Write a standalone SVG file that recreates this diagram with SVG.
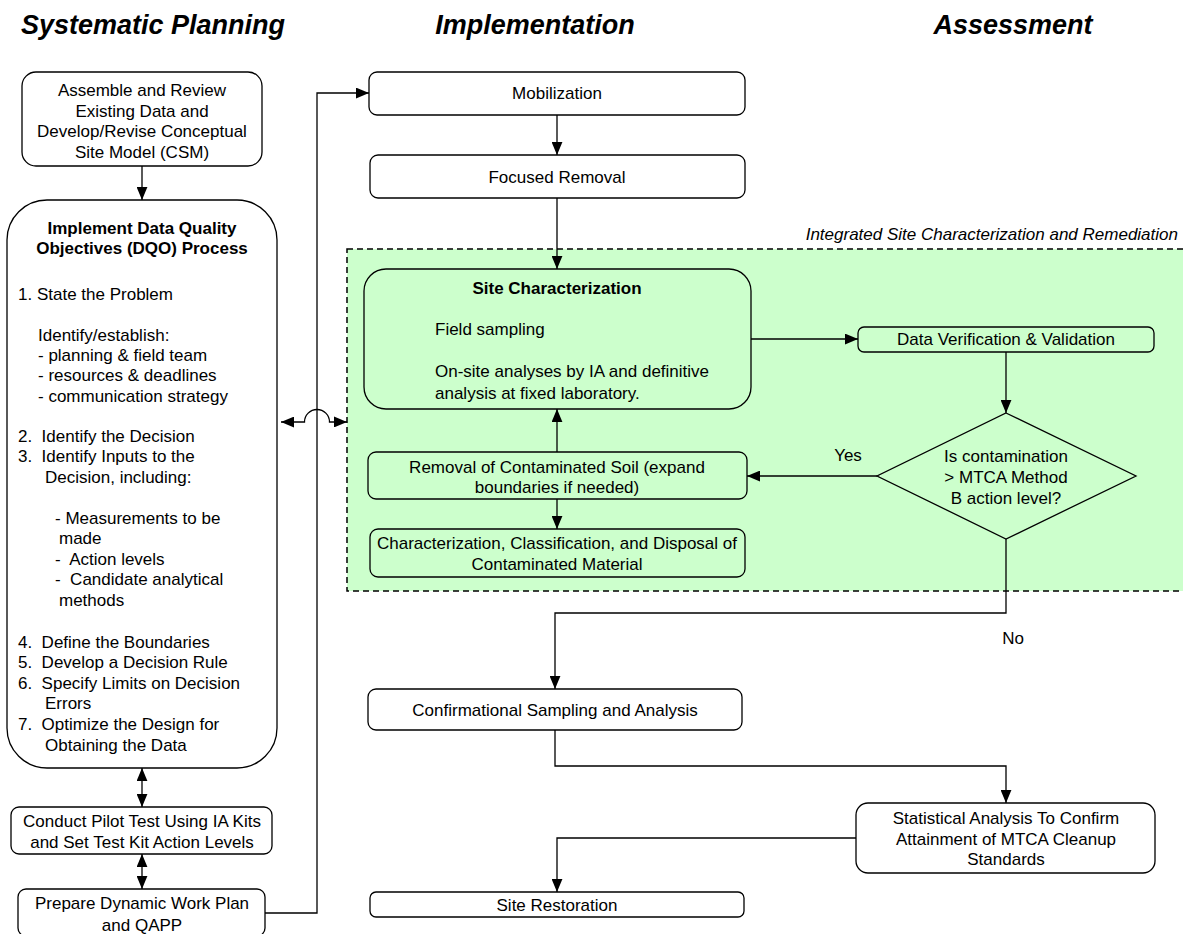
<svg xmlns="http://www.w3.org/2000/svg" width="1183" height="934" viewBox="0 0 1183 934">
<defs>
<style>
text{font-family:"Liberation Sans",Arial,sans-serif;font-size:17px;fill:#000}
.title{font-size:27px;font-weight:bold;font-style:italic}
.b{font-weight:bold}
.c{text-anchor:middle}
.pre{white-space:pre}
.box{fill:#fff;stroke:#000;stroke-width:1.3}
.gbox{fill:#ccffcc;stroke:#000;stroke-width:1.3}
.conn path{fill:none;stroke:#000;stroke-width:1.3}
</style>
<marker id="ah" viewBox="0 0 12 10" refX="12" refY="5" markerWidth="13" markerHeight="11" markerUnits="userSpaceOnUse" orient="auto-start-reverse">
<path d="M0,0 L12,5 L0,10 z" fill="#000"/>
</marker>
</defs>
<rect width="1183" height="934" fill="#fff"/>
<text class="title" x="21" y="34">Systematic Planning</text>
<text class="title c" x="535" y="34">Implementation</text>
<text class="title c" x="1013" y="34">Assessment</text>

<g id="region">
<rect x="347" y="249" width="850" height="342" fill="#ccffcc" stroke="#000" stroke-width="1.5" stroke-dasharray="6,4"/>
<text x="1178" y="240" style="text-anchor:end;font-style:italic">Integrated Site Characterization and Remediation</text>
</g>

<g id="assemble">
<rect class="box" x="22" y="72" width="240" height="94" rx="14"/>
<text class="c" x="142" y="96">Assemble and Review</text>
<text class="c" x="142" y="117">Existing Data and</text>
<text class="c" x="142" y="137">Develop/Revise Conceptual</text>
<text class="c" x="142" y="158">Site Model (CSM)</text>
</g>

<g id="dqo">
<rect class="box" x="7" y="200" width="270" height="568" rx="40"/>
<text class="b c" x="142" y="234">Implement Data Quality</text>
<text class="b c" x="142" y="254">Objectives (DQO) Process</text>
<text x="18" y="300">1. State the Problem</text>
<text x="38" y="341">Identify/establish:</text>
<text x="38" y="361">- planning &amp; field team</text>
<text x="38" y="381">- resources &amp; deadlines</text>
<text x="38" y="402">- communication strategy</text>
<text class="pre" x="18" y="442">2.  Identify the Decision</text>
<text class="pre" x="18" y="462">3.  Identify Inputs to the</text>
<text x="45" y="483">Decision, including:</text>
<text x="55" y="524">- Measurements to be</text>
<text x="59" y="544">made</text>
<text class="pre" x="55" y="565">-  Action levels</text>
<text class="pre" x="55" y="585">-  Candidate analytical</text>
<text x="59" y="606">methods</text>
<text class="pre" x="18" y="648">4.  Define the Boundaries</text>
<text class="pre" x="18" y="668">5.  Develop a Decision Rule</text>
<text class="pre" x="18" y="689">6.  Specify Limits on Decision</text>
<text x="45" y="709">Errors</text>
<text class="pre" x="18" y="730">7.  Optimize the Design for</text>
<text x="45" y="751">Obtaining the Data</text>
</g>

<g id="pilot">
<rect class="box" x="11" y="807" width="261" height="47" rx="8"/>
<text class="c" x="142" y="827">Conduct Pilot Test Using IA Kits</text>
<text class="c" x="142" y="848">and Set Test Kit Action Levels</text>
</g>

<g id="workplan">
<rect class="box" x="18" y="889" width="247" height="47" rx="8"/>
<text class="c" x="142" y="909">Prepare Dynamic Work Plan</text>
<text class="c" x="142" y="931">and QAPP</text>
</g>

<g id="mobilization">
<rect class="box" x="369" y="72" width="376" height="43" rx="8"/>
<text class="c" x="557" y="99">Mobilization</text>
</g>

<g id="focused">
<rect class="box" x="370" y="155" width="375" height="43" rx="8"/>
<text class="c" x="557" y="183">Focused Removal</text>
</g>

<g id="sitechar">
<rect class="gbox" x="364" y="269" width="387" height="140" rx="22"/>
<text class="b c" x="557" y="294">Site Characterization</text>
<text x="435" y="335">Field sampling</text>
<text x="435" y="377">On-site analyses by IA and definitive</text>
<text x="435" y="399">analysis at fixed laboratory.</text>
</g>

<g id="removal">
<rect class="gbox" x="368" y="452" width="379" height="47" rx="8"/>
<text class="c" x="557" y="473">Removal of Contaminated Soil (expand</text>
<text class="c" x="557" y="493">boundaries if needed)</text>
</g>

<g id="disposal">
<rect class="gbox" x="370" y="529" width="375" height="48" rx="8"/>
<text class="c" x="557" y="549">Characterization, Classification, and Disposal of</text>
<text class="c" x="557" y="570">Contaminated Material</text>
</g>

<g id="dv">
<rect class="gbox" x="858" y="327" width="296" height="25" rx="6"/>
<text class="c" x="1006" y="345">Data Verification &amp; Validation</text>
</g>

<g id="decision">
<polygon class="gbox" points="1006,413 1136,476 1006,539 877,476"/>
<text class="c" x="1006" y="462">Is contamination</text>
<text class="c" x="1006" y="483">&gt; MTCA Method</text>
<text class="c" x="1006" y="504">B action level?</text>
</g>

<g id="confirm">
<rect class="box" x="368" y="689" width="374" height="41" rx="8"/>
<text class="c" x="555" y="716">Confirmational Sampling and Analysis</text>
</g>

<g id="stats">
<rect class="box" x="856" y="803" width="299" height="70" rx="12"/>
<text class="c" x="1006" y="824">Statistical Analysis To Confirm</text>
<text class="c" x="1006" y="845">Attainment of MTCA Cleanup</text>
<text class="c" x="1006" y="865">Standards</text>
</g>

<g id="restoration">
<rect class="box" x="370" y="892" width="374" height="25" rx="6"/>
<text class="c" x="557" y="911">Site Restoration</text>
</g>

<g class="conn" id="connectors">
<path d="M142,166 V200" marker-end="url(#ah)"/>
<path d="M142,768 V807" marker-start="url(#ah)" marker-end="url(#ah)"/>
<path d="M142,854 V889" marker-start="url(#ah)" marker-end="url(#ah)"/>
<path d="M265,913 H317 V93 H369" marker-end="url(#ah)"/>
<path d="M281,422 H304.5 A12.5,12.5 0 0 1 329.5,422 H347" marker-start="url(#ah)" marker-end="url(#ah)"/>
<path d="M557,115 V155" marker-end="url(#ah)"/>
<path d="M557,198 V269" marker-end="url(#ah)"/>
<path d="M751,339 H858" marker-end="url(#ah)"/>
<path d="M1006,352 V413" marker-end="url(#ah)"/>
<path d="M877,476 H747" marker-end="url(#ah)"/>
<path d="M557,452 V409" marker-end="url(#ah)"/>
<path d="M557,499 V529" marker-end="url(#ah)"/>
<path d="M1006,539 V613 H555 V689" marker-end="url(#ah)"/>
<path d="M555,730 V766 H1006 V803" marker-end="url(#ah)"/>
<path d="M856,838 H557 V892" marker-end="url(#ah)"/>
<text x="848" y="461" class="c">Yes</text>
<text x="1013" y="644" class="c">No</text>
</g>
</svg>
